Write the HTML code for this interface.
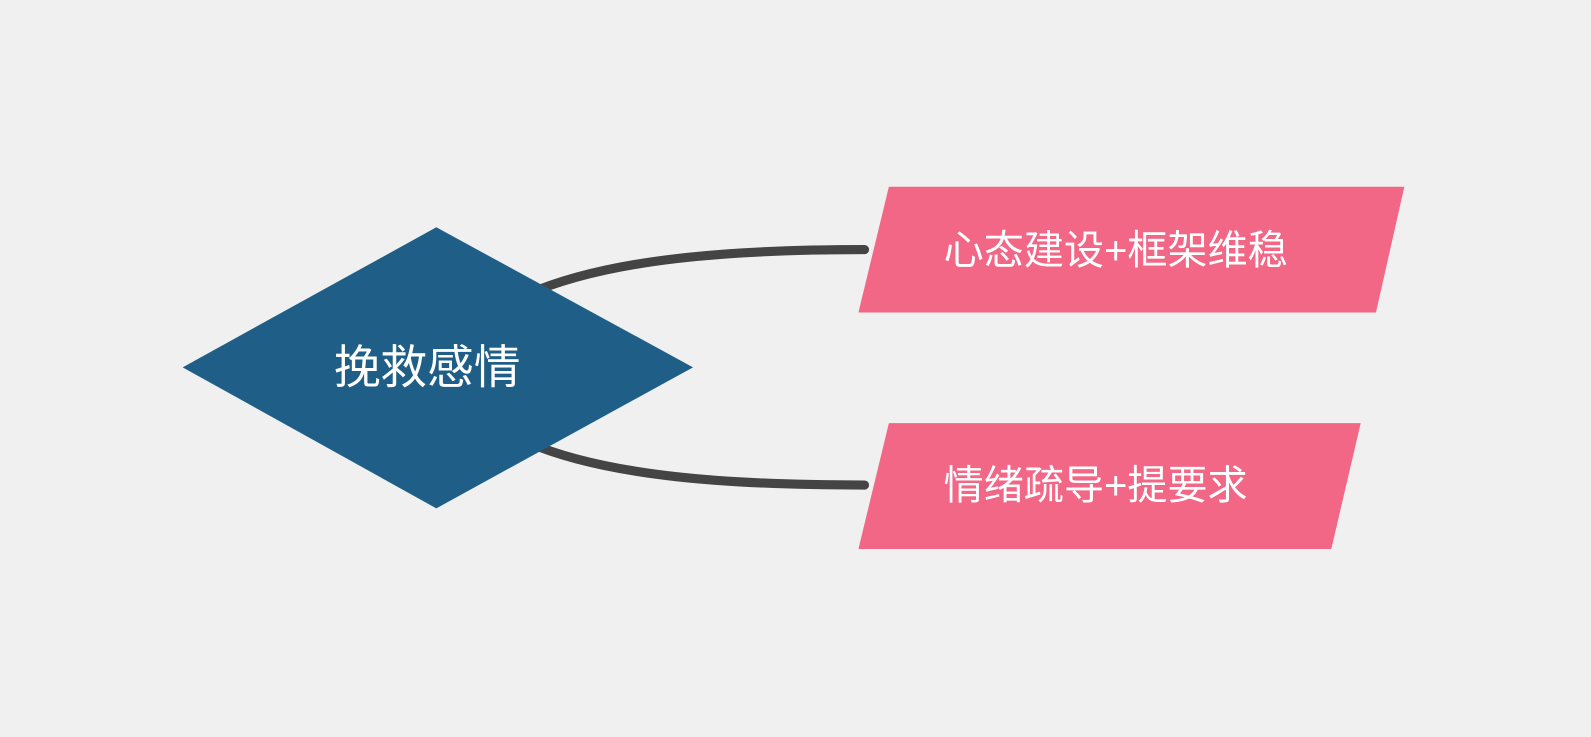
<!DOCTYPE html>
<html>
<head>
<meta charset="utf-8">
<style>
html,body{margin:0;padding:0;}
body{width:1591px;height:737px;background:#f0f0f0;overflow:hidden;}
svg{display:block;}
text{font-family:"Liberation Sans","Noto Sans CJK SC",sans-serif;fill:#fff;}
</style>
</head>
<body>
<svg width="1591" height="737" viewBox="0 0 1591 737" xmlns="http://www.w3.org/2000/svg">
<rect width="1591" height="737" fill="#f0f0f0"/>
<g transform="scale(1.0147)">
<path d="M520 290 C600 255 720 246 852 246" fill="none" stroke="#444" stroke-width="9" stroke-linecap="round"/>
<path d="M520 436 C600 470 720 478 852 478" fill="none" stroke="#444" stroke-width="9" stroke-linecap="round"/>
<polygon points="180,362 430,224 683,362 430,501" fill="#1f5f87"/>
<text x="421" y="378" font-size="46" text-anchor="middle">挽救感情</text>
<polygon points="876,184 1384,184 1356,308 846,308" fill="#f26686"/>
<text x="930" y="260" font-size="39.5">心态建设+框架维稳</text>
<polygon points="876,417 1341,417 1312,541 846,541" fill="#f26686"/>
<text x="930" y="492" font-size="39.5">情绪疏导+提要求</text>
</g>
</svg>
</body>
</html>
